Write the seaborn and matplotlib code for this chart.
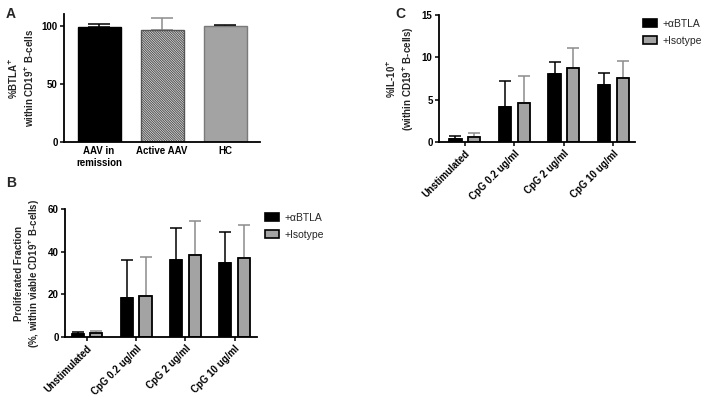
import numpy as np
import pandas as pd
import matplotlib
matplotlib.use("Agg")
import matplotlib.pyplot as plt
import seaborn as sns
from matplotlib.patches import Patch
from matplotlib.container import BarContainer

# panel A
groups_a = ["AAV in\nremission", "Active AAV", "HC"]
btla_mean = [99.2, 96.5, 100.0]
btla_err = [1.8, 10.0, 0.5]

# panels B and C
stims = ["Unstimulated", "CpG 0.2 ug/ml", "CpG 2 ug/ml", "CpG 10 ug/ml"]
treatments = ["+\u03b1BTLA", "+Isotype"]
prolif_btla = [1.5, 18.5, 36.3, 34.7]
prolif_btla_err = [0.7, 17.5, 15.0, 14.3]
prolif_iso = [2.0, 19.3, 38.5, 37.0]
prolif_iso_err = [0.8, 18.2, 16.0, 15.3]
il10_btla = [0.4, 4.15, 8.0, 6.7]
il10_btla_err = [0.25, 3.05, 1.45, 1.5]
il10_iso = [0.55, 4.6, 8.7, 7.6]
il10_iso_err = [0.55, 3.15, 2.35, 1.95]

sns.set_style("ticks")
plt.rcParams["font.family"] = ["Liberation Sans", "DejaVu Sans"]
plt.rcParams["hatch.linewidth"] = 0.8

BLACK = "#000000"
GREY = "#a3a3a3"
EBGREY = "#8c8c8c"

fig = plt.figure(figsize=(7.09, 4.0), dpi=100)
axA = fig.add_axes([0.0903, 0.645, 0.2767, 0.32])
axB = fig.add_axes([0.0917, 0.1575, 0.2708, 0.32])
axC = fig.add_axes([0.619, 0.645, 0.2766, 0.3175])


def style_axis(ax):
    sns.despine(ax=ax)
    for s in ["left", "bottom"]:
        ax.spines[s].set_linewidth(1.3)
        ax.spines[s].set_color("black")
    ax.tick_params(axis="both", labelsize=7, width=1.1, length=3, pad=1.5, colors="black")
    for lab in ax.get_xticklabels() + ax.get_yticklabels():
        lab.set_fontweight("bold")
    ax.set_xlabel("")


def upper_err(ax, bar, err, color, capsize):
    cx = bar.get_x() + bar.get_width() / 2
    top = bar.get_height()
    ax.errorbar([cx], [top], yerr=[[0], [err]], fmt="none", ecolor=color,
                elinewidth=1.1, capsize=capsize, capthick=1.1, zorder=1)


def bar_containers(ax):
    return [c for c in ax.containers if isinstance(c, BarContainer)]


# ---- A
dfa = pd.DataFrame({"group": groups_a, "val": btla_mean})
sns.barplot(data=dfa, x="group", y="val", hue="group", palette=[BLACK, "white", GREY],
            legend=False, width=0.68, errorbar=None, ax=axA, zorder=2)
edges_a = [BLACK, "#555555", "#7a7a7a"]
err_cols_a = [BLACK, EBGREY, BLACK]
bars_a = [c[0] for c in bar_containers(axA)]
for i, bar in enumerate(bars_a):
    bar.set_edgecolor(edges_a[i])
    bar.set_linewidth(1.0)
    upper_err(axA, bar, btla_err[i], err_cols_a[i], 8)
bars_a[1].set_hatch("\\" * 14)
axA.set_ylim(0, 110)
axA.set_xlim(-0.556, 2.556)
axA.set_yticks([0, 50, 100])
axA.set_ylabel("%BTLA$^{\\mathbf{+}}$\nwithin CD19$^{\\mathbf{+}}$ B-cells", fontsize=7,
               fontweight="bold", labelpad=4, linespacing=1.3)
style_axis(axA)
axA.tick_params(axis="x", length=0, pad=3)


# ---- B and C
def grouped(ax, v1, e1, v2, e2, ylim, yticks, ylabel):
    df = pd.DataFrame({
        "stim": stims * 2,
        "treat": [treatments[0]] * 4 + [treatments[1]] * 4,
        "val": v1 + v2,
    })
    sns.barplot(data=df, x="stim", y="val", hue="treat", hue_order=treatments,
                palette=[BLACK, GREY], width=0.76, gap=0.355, errorbar=None,
                edgecolor=BLACK, linewidth=1.3, ax=ax, zorder=2)
    errs = [e1, e2]
    cols = [BLACK, EBGREY]
    for k, cont in enumerate(bar_containers(ax)):
        for j, bar in enumerate(cont):
            upper_err(ax, bar, errs[k][j], cols[k], 4)
    ax.set_ylim(*ylim)
    ax.set_yticks(yticks)
    ax.set_ylabel(ylabel, fontsize=7, fontweight="bold", linespacing=1.3, labelpad=4)
    style_axis(ax)
    plt.setp(ax.get_xticklabels(), rotation=45, ha="right", rotation_mode="anchor")
    if ax.legend_ is not None:
        ax.legend_.remove()


grouped(axB, prolif_btla, prolif_btla_err, prolif_iso, prolif_iso_err,
        (0, 60), [0, 20, 40, 60],
        "Proliferated Fraction\n(%, within viable CD19$^{\\mathbf{+}}$ B-cells)")
axB.set_xlim(-0.447, 3.457)

grouped(axC, il10_btla, il10_btla_err, il10_iso, il10_iso_err,
        (0, 15), [0, 5, 10, 15],
        "%IL-10$^{\\mathbf{+}}$\n(within CD19$^{\\mathbf{+}}$ B-cells)")
axC.set_xlim(-0.525, 3.434)

handles = [Patch(facecolor=BLACK, edgecolor=BLACK, linewidth=1.2),
           Patch(facecolor=GREY, edgecolor=BLACK, linewidth=1.2)]
for anchor in [(0.374, 0.468), (0.907, 0.953)]:
    fig.legend(handles, treatments, loc="upper left", bbox_to_anchor=anchor,
               frameon=False, fontsize=7.5, borderpad=0, borderaxespad=0,
               handlelength=1.35, handleheight=0.8, handletextpad=0.55,
               labelspacing=0.65)

for letter, x, y in [("A", 0.008, 0.965), ("B", 0.008, 0.5425), ("C", 0.557, 0.965)]:
    fig.text(x, y, letter, fontsize=10, fontweight="bold", va="center", ha="left")

fig.savefig("out.png", dpi=100)
